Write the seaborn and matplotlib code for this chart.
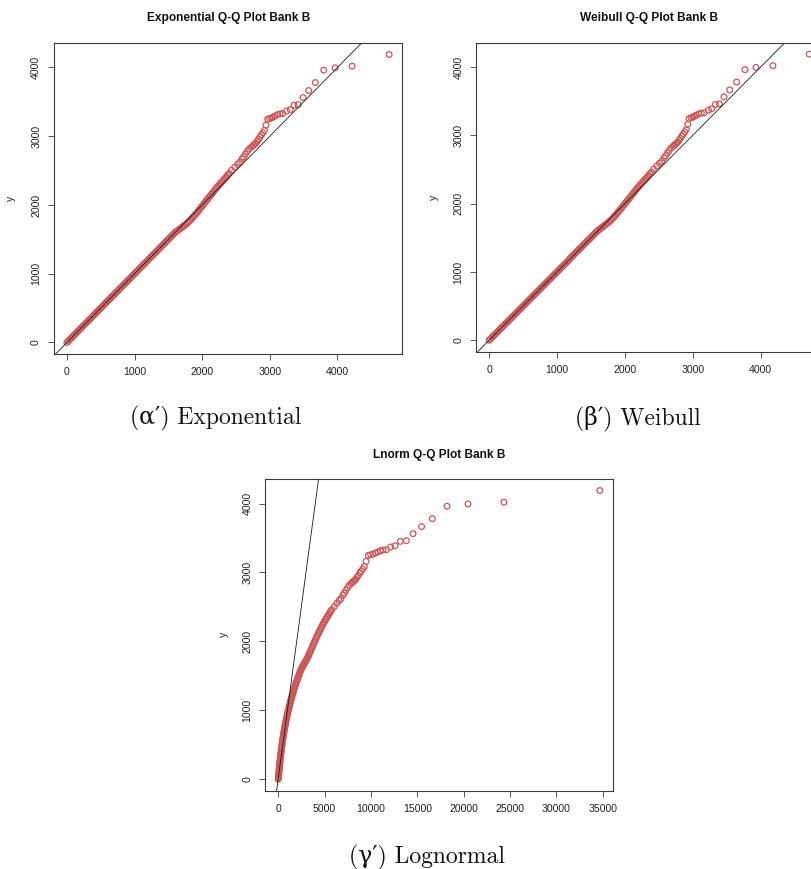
import numpy as np
import pandas as pd
import matplotlib
matplotlib.use("Agg")
import matplotlib.pyplot as plt
import seaborn as sns

# ---------------- data ----------------
# sorted sample quantiles (y) shared by the three Q-Q plots
sample_q = [
    0, 20, 40, 60, 80, 100, 120, 140, 160, 180, 200, 220, 240, 260, 280, 300,
    320, 340, 360, 380, 400, 420, 440, 460, 480, 500, 520, 540, 560, 580, 600,
    620, 640, 660, 680, 700, 720, 740, 760, 780, 800, 820, 840, 860, 880, 900,
    920, 940, 960, 980, 1000, 1020, 1040, 1060, 1080, 1100, 1120, 1140, 1160,
    1180, 1200, 1220, 1240, 1260, 1280, 1300, 1320, 1340, 1360, 1380, 1400,
    1420, 1440, 1460, 1480, 1500, 1520, 1540, 1560, 1580, 1600,
    1615, 1630, 1645, 1660, 1675, 1690, 1705, 1720, 1738, 1755, 1775, 1795, 1818,
    1840, 1863, 1885, 1910, 1935, 1960, 1985, 2010, 2035, 2060, 2085, 2110, 2135,
    2160, 2185, 2210, 2235, 2257, 2280, 2303, 2325, 2347, 2370, 2392, 2415, 2437,
    2460,
    2505, 2550, 2590, 2620, 2670, 2700, 2740, 2780, 2815, 2840, 2855, 2870, 2885,
    2900, 2930, 2955, 2990, 3020, 3050, 3085, 3160, 3247, 3257, 3266, 3281, 3296,
    3315, 3325, 3329, 3368, 3387, 3451, 3460, 3562, 3664, 3780, 3961, 3994, 4019,
    4188,
]

# theoretical exponential quantiles
theo_exp = [
    0, 20, 40, 60, 80, 100, 120, 140, 160, 180, 200, 220, 240, 260, 280, 300,
    320, 340, 360, 380, 400, 420, 440, 460, 480, 500, 520, 540, 560, 580, 600,
    620, 640, 660, 680, 700, 720, 740, 760, 780, 800, 820, 840, 860, 880, 900,
    920, 940, 960, 980, 1000, 1020, 1040, 1060, 1080, 1100, 1120, 1140, 1160,
    1180, 1200, 1220, 1240, 1260, 1280, 1300, 1320, 1340, 1360, 1380, 1400,
    1420, 1440, 1460, 1480, 1500, 1520, 1540, 1560, 1580, 1600,
    1620, 1640, 1660, 1680, 1700, 1720, 1740, 1760, 1780, 1800, 1820, 1840, 1860,
    1880, 1900, 1920, 1940, 1960, 1980, 2000, 2020, 2040, 2060, 2080, 2100, 2120,
    2140, 2160, 2180, 2200, 2220, 2240, 2260, 2280, 2300, 2320, 2340, 2360, 2380,
    2400,
    2433, 2480, 2520, 2553, 2588, 2612, 2639, 2666, 2696, 2727, 2743, 2760, 2778,
    2796, 2814, 2834, 2855, 2876, 2898, 2921, 2943, 2968, 2998, 3027, 3052, 3081,
    3116, 3151, 3189, 3249, 3303, 3358, 3417, 3491, 3574, 3673, 3796, 3964, 4216,
    4763,
]

# theoretical Weibull quantiles
theo_weibull = [
    0, 20, 40, 60, 80, 100, 120, 140, 160, 180, 200, 220, 240, 260, 280, 300,
    320, 340, 360, 380, 400, 420, 440, 460, 480, 500, 520, 540, 560, 580, 600,
    620, 640, 660, 680, 700, 720, 740, 760, 780, 800, 820, 840, 860, 880, 900,
    920, 940, 960, 980, 1000, 1020, 1040, 1060, 1080, 1100, 1120, 1140, 1160,
    1180, 1195, 1215, 1235, 1255, 1275, 1295, 1315, 1335, 1355, 1375, 1395,
    1415, 1435, 1455, 1475, 1495, 1515, 1535, 1555, 1575, 1594,
    1614, 1634, 1654, 1674, 1693, 1713, 1732, 1752, 1772, 1792, 1811, 1831, 1850,
    1870, 1890, 1910, 1930, 1950, 1970, 1990, 2010, 2030, 2050, 2070, 2090, 2110,
    2130, 2150, 2170, 2190, 2210, 2230, 2250, 2270, 2290, 2310, 2330, 2350, 2370,
    2390,
    2423, 2470, 2509, 2542, 2576, 2600, 2626, 2652, 2682, 2712, 2728, 2745, 2763,
    2781, 2799, 2819, 2840, 2861, 2883, 2906, 2926, 2945, 2975, 3002, 3027, 3056,
    3091, 3126, 3166, 3230, 3279, 3333, 3392, 3460, 3544, 3647, 3769, 3931, 4181,
    4715,
]

# theoretical log-normal quantiles
theo_lnorm = [
    2, 28, 44, 57, 71, 84, 97, 111, 125, 139, 153, 168, 183, 198, 214, 230,
    246, 263, 280, 298, 316, 334, 353, 373, 393, 413, 434, 456, 478, 500, 523,
    546, 570, 595, 620, 645, 671, 697, 724, 751, 780, 809, 839, 869, 900, 932,
    964, 997, 1030, 1064, 1099, 1134, 1170, 1207, 1244, 1283, 1322, 1361, 1402,
    1442, 1484, 1527, 1571, 1615, 1659, 1705, 1752, 1800, 1849, 1897, 1947,
    1997, 2049, 2102, 2156, 2209, 2264, 2319, 2376, 2433, 2492,
    2554, 2617, 2677, 2738, 2801, 2865, 2934, 3004, 3070, 3137, 3208, 3280, 3352,
    3425, 3500, 3577, 3653, 3731, 3808, 3887, 3972, 4058, 4143, 4230, 4316, 4405,
    4497, 4590, 4679, 4770, 4864, 4960, 5057, 5155, 5254, 5355, 5461, 5570, 5672,
    5775,
    6065, 6320, 6565, 6755, 6975, 7135, 7300, 7480, 7670, 7890, 8000, 8125, 8240,
    8365, 8500, 8635, 8800, 8945, 9125, 9290, 9477, 9724, 9972, 10231, 10478, 10728,
    11020, 11307, 11663, 12126, 12600, 13170, 13817, 14538, 15464, 16617, 18199,
    20461, 24338, 34675,
]

titles = ["Exponential Q-Q Plot Bank B", "Weibull Q-Q Plot Bank B", "Lnorm Q-Q Plot Bank B"]
captions = ["(\u03b1\u2032) Exponential", "(\u03b2\u2032) Weibull", "(\u03b3\u2032) Lognormal"]
ticks_small = [0, 1000, 2000, 3000, 4000]
ticks_lnorm_x = [0, 5000, 10000, 15000, 20000, 25000, 30000, 35000]
ref_slope = 1.0      # reference line y = x
ref_intercept = 0.0

# ---------------- style ----------------
sns.set_theme(style="ticks")
plt.rcParams["font.family"] = ["Liberation Sans", "DejaVu Sans"]
RED = "#CD5555"
AX_COL = "#3a3a3a"

W, H = 811, 869
fig = plt.figure(figsize=(W / 100, H / 100), dpi=100)
fig.patch.set_facecolor("white")


def px_axes(left, top, right, bottom):
    return fig.add_axes([left / W, 1 - bottom / H, (right - left) / W, (bottom - top) / H])


panels = [
    dict(x=theo_exp, ax=px_axes(54, 43, 402, 354), xt=ticks_small,
         title=(228.5, 18), cap=(216, 424), ylab=-0.108),
    dict(x=theo_weibull, ax=px_axes(476.3, 42.7, 822, 351.7), xt=ticks_small,
         title=(649, 18), cap=(637.5, 424), ylab=-0.108),
    dict(x=theo_lnorm, ax=px_axes(265.3, 479, 612.7, 790.7), xt=ticks_lnorm_x,
         title=(439, 455), cap=(426.5, 863), ylab=-0.105),
]

for i, p in enumerate(panels):
    ax = p["ax"]
    df = pd.DataFrame({"theoretical": p["x"], "sample": sample_q})
    sns.scatterplot(data=df, x="theoretical", y="sample", ax=ax, color=RED,
                    s=17, linewidth=0.9, legend=False, zorder=2)
    pts = ax.collections[-1]
    pts.set_facecolor("none")
    pts.set_edgecolor(RED)

    xs = np.array(p["x"], dtype=float)
    ys = np.array(sample_q, dtype=float)
    xr = xs.max() - xs.min()
    yr = ys.max() - ys.min()
    ax.set_xlim(xs.min() - 0.04 * xr, xs.max() + 0.04 * xr)
    ax.set_ylim(ys.min() - 0.04 * yr, ys.max() + 0.04 * yr)

    ax.axline((0, ref_intercept), slope=ref_slope, color="#1a1a1a", lw=0.6, zorder=3)

    ax.set_xticks(p["xt"])
    ax.set_yticks(ticks_small)
    ax.set_xticklabels([str(v) for v in p["xt"]])
    ax.set_yticklabels([str(v) for v in ticks_small], rotation=90, va="center")
    ax.tick_params(axis="both", direction="out", length=4.3, width=0.6,
                   color=AX_COL, labelsize=7.6, labelcolor="#222222", pad=5)
    for sp in ax.spines.values():
        sp.set_visible(True)
        sp.set_color(AX_COL)
        sp.set_linewidth(0.8)
    ax.set_facecolor("white")
    ax.grid(False)
    ax.set_xlabel("")
    ax.set_ylabel("y", fontsize=7.6, color="#222222")
    ax.yaxis.set_label_coords(p["ylab"], 0.5)

    tx, ty = p["title"]
    fig.text(tx / W, 1 - ty / H, titles[i], ha="center", va="center",
             fontsize=8.6, fontweight="bold", color="#111111")
    cx, cy = p["cap"]
    fig.text(cx / W, 1 - cy / H, captions[i], ha="center", va="baseline",
             fontsize=17, family=["cmr10", "DejaVu Serif"], color="#111111")

fig.savefig("out.png", dpi=100, facecolor="white")
